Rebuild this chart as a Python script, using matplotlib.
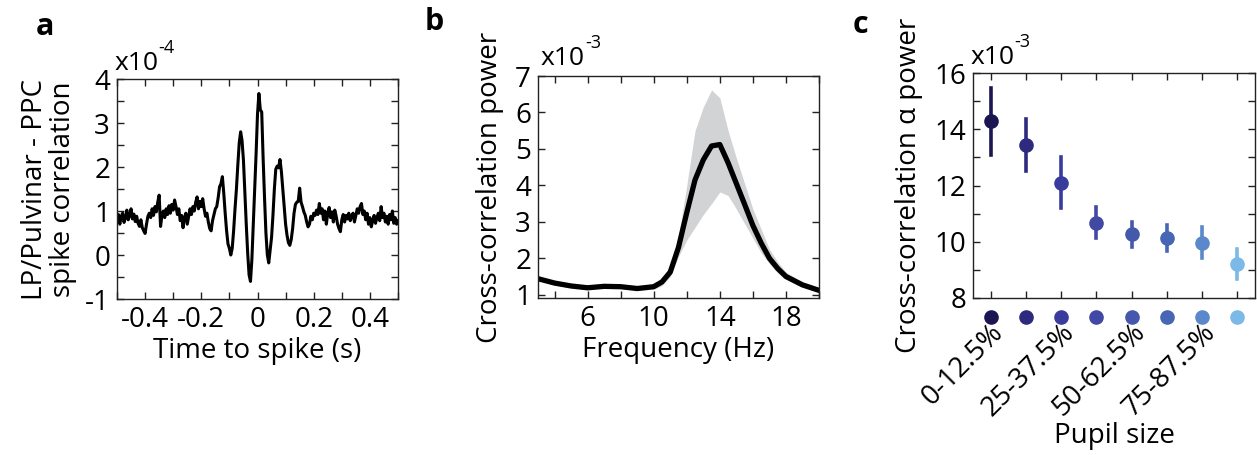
import numpy as np
import matplotlib.pyplot as plt
import matplotlib.transforms as mtransforms
from matplotlib.ticker import MultipleLocator

plt.rcParams['font.family'] = ['Open Sans', 'DejaVu Sans']
plt.rcParams['axes.unicode_minus'] = False
plt.rcParams['xtick.direction'] = 'in'
plt.rcParams['ytick.direction'] = 'in'

# panel a: spike-triggered correlation (x1e-4), sampled every 5 ms from -0.5 to 0.5 s
spike_corr = [
    0.78, 0.92, 0.70, 0.88, 0.95, 0.74, 0.85, 1.02, 0.80, 0.90,
    1.05, 0.82, 0.93, 0.76, 0.88, 0.72, 0.65, 0.80, 0.62, 0.55,
    0.49, 0.70, 0.88, 0.95, 0.85, 1.05, 0.90, 1.10, 0.98, 1.20,
    1.36, 0.65, 0.90, 1.00, 0.85, 1.05, 0.92, 1.12, 0.95, 1.15,
    1.02, 1.25, 1.10, 0.92, 1.05, 0.78, 0.90, 0.62, 0.85, 0.95,
    0.70, 0.88, 1.05, 0.92, 1.10, 1.00, 1.20, 1.32, 1.05, 1.22,
    1.10, 1.28, 1.05, 0.88, 0.95, 0.75, 0.60, 0.55, 0.78, 0.92,
    1.05, 1.10, 1.30, 1.55, 1.62, 1.78, 1.40, 0.95, 0.55, 0.25,
    0.15, 0.00, 0.15, 0.55, 1.05, 1.50, 2.05, 2.55, 2.80, 2.60,
    2.15, 1.40, 0.70, 0.05, -0.45, -0.60, -0.10, 0.70, 1.55, 2.30,
    3.20, 3.67, 3.30, 3.25, 2.20, 1.30, 0.50, 0.00, -0.18, 0.10,
    0.40, 0.90, 1.50, 1.95, 2.02, 1.98, 2.17, 1.90, 1.50, 1.10,
    0.70, 0.45, 0.28, 0.22, 0.35, 0.60, 0.95, 1.15, 1.20, 1.22,
    1.52, 1.20, 1.10, 0.98, 0.90, 0.75, 0.64, 0.70, 0.88, 0.80,
    0.95, 0.90, 1.02, 0.92, 1.17, 0.95, 1.05, 0.80, 1.00, 0.70,
    0.95, 1.08, 0.85, 0.98, 0.75, 1.02, 0.88, 0.70, 0.60, 0.53,
    0.80, 0.92, 0.75, 0.90, 0.82, 0.95, 0.78, 0.88, 0.95, 0.75,
    0.90, 1.05, 0.95, 1.10, 1.17, 0.92, 1.00, 0.80, 0.95, 0.70,
    0.85, 0.64, 0.78, 0.90, 0.72, 0.85, 0.95, 0.78, 1.10, 0.85,
    0.95, 0.75, 0.88, 0.70, 0.92, 0.80, 1.00, 0.72, 0.85, 0.70,
    0.78,
]
lag = np.linspace(-0.5, 0.5, len(spike_corr))

# panel b: cross-correlation spectrum (x1e-3), mean and shaded band
freq = [3, 4, 5, 6, 7, 8, 9, 10, 10.5, 11, 11.5, 12, 12.5, 13, 13.5,
        14, 14.5, 15, 15.5, 16, 16.5, 17, 17.5, 18, 19, 20]
power_mean = [1.44, 1.32, 1.24, 1.19, 1.23, 1.22, 1.17, 1.22, 1.35, 1.62,
              2.30, 3.25, 4.15, 4.70, 5.08, 5.12, 4.62, 4.05, 3.48, 2.90,
              2.42, 2.00, 1.72, 1.50, 1.27, 1.12]
power_upper = [1.50, 1.38, 1.29, 1.24, 1.28, 1.27, 1.22, 1.30, 1.45, 1.80,
               2.60, 4.00, 5.50, 6.15, 6.62, 6.40, 5.50, 4.75, 4.05, 3.35,
               2.80, 2.25, 1.90, 1.62, 1.35, 1.18]
power_lower = [1.38, 1.27, 1.19, 1.14, 1.18, 1.17, 1.12, 1.15, 1.25, 1.50,
               2.05, 2.50, 2.85, 3.20, 3.50, 3.82, 3.72, 3.35, 2.95, 2.55,
               2.15, 1.85, 1.60, 1.42, 1.20, 1.06]

# panel c: alpha power per pupil size bin (x1e-3)
pupil_bins = ['0-12.5%', '12.5-25%', '25-37.5%', '37.5-50%',
              '50-62.5%', '62.5-75%', '75-87.5%', '87.5-100%']
alpha_power = [14.28, 13.44, 12.10, 10.68, 10.26, 10.12, 9.97, 9.22]
alpha_low = [13.09, 12.53, 11.21, 10.15, 9.82, 9.67, 9.44, 8.69]
alpha_high = [15.46, 14.37, 13.03, 11.22, 10.71, 10.58, 10.53, 9.76]
bin_colors = ['#1b1652', '#2e2b7f', '#393c9c', '#4149a4',
              '#4459ab', '#4766b3', '#5a88ca', '#7bb9e6']

W, H = 1257, 455
fig = plt.figure(figsize=(W / 100, H / 100), dpi=100)


def px_axes(left, top, right, bottom):
    return fig.add_axes([left / W, 1 - bottom / H, (right - left) / W, (bottom - top) / H])


def style(ax):
    for s in ax.spines.values():
        s.set_linewidth(1.0)
        s.set_color('#222222')
    ax.tick_params(which='both', top=True, right=True, labelsize=20,
                   color='#222222', width=1.0)
    ax.tick_params(which='major', length=5, pad=5)
    ax.tick_params(which='minor', length=5)


def scale_note(ax, exp, x, y):
    t = ax.text(x, y, 'x10', transform=ax.transAxes, fontsize=19,
                ha='left', va='baseline')
    ax.annotate(exp, xy=(1, 0.75), xycoords=t, fontsize=13,
                ha='left', va='bottom')


# ---- a ----
ax1 = px_axes(117, 79, 398, 299)
ax1.plot(lag, spike_corr, color='black', lw=2.2)
ax1.set_xlim(-0.5, 0.5)
ax1.set_ylim(-1, 4)
ax1.xaxis.set_minor_locator(MultipleLocator(0.1))
ax1.yaxis.set_major_locator(MultipleLocator(1))
ax1.yaxis.set_minor_locator(MultipleLocator(0.5))
ax1.set_xticks([-0.4, -0.2, 0, 0.2, 0.4], ['-0.4', '-0.2', '0', '0.2', '0.4'])
style(ax1)
ax1.set_xlabel('Time to spike (s)', fontsize=20, labelpad=2)
ax1.set_ylabel('LP/Pulvinar - PPC\nspike correlation', fontsize=20,
               labelpad=6, linespacing=1.0)
scale_note(ax1, '-4', -0.01, 1.04)

# ---- b ----
ax2 = px_axes(538, 76, 819, 298)
ax2.fill_between(freq, power_lower, power_upper, color='#d2d3d5', lw=0)
ax2.plot(freq, power_mean, color='black', lw=3.8, solid_capstyle='round')
ax2.set_xlim(3, 20)
ax2.set_ylim(0.91, 7)
ax2.set_xticks([6, 10, 14, 18])
ax2.xaxis.set_minor_locator(MultipleLocator(2))
ax2.set_yticks([1, 2, 3, 4, 5, 6, 7])
style(ax2)
ax2.set_xlabel('Frequency (Hz)', fontsize=20, labelpad=2)
ax2.set_ylabel('Cross-correlation power', fontsize=20, labelpad=8)
scale_note(ax2, '-3', 0.01, 1.05)

# ---- c ----
ax3 = px_axes(973, 73, 1255, 298)
pos = np.arange(1, len(pupil_bins) + 1)
for i in range(len(pos)):
    ax3.plot([pos[i], pos[i]], [alpha_low[i], alpha_high[i]],
             color=bin_colors[i], lw=2.6)
    ax3.plot(pos[i], alpha_power[i], 'o', color=bin_colors[i], ms=9.5)
ax3.set_xlim(0.5, 8.5)
ax3.set_ylim(8, 16)
ax3.yaxis.set_major_locator(MultipleLocator(2))
ax3.yaxis.set_minor_locator(MultipleLocator(1))
shown = [lab if i % 2 == 0 else '' for i, lab in enumerate(pupil_bins)]
ax3.set_xticks(pos, shown)
style(ax3)
ax3.tick_params(axis='x', pad=22)
for lab in ax3.get_xticklabels():
    lab.set_rotation(45)
    lab.set_rotation_mode('anchor')
    lab.set_ha('right')
    lab.set_va('center')
    lab.set_fontsize(20)
    lab.set_transform(lab.get_transform() +
                      mtransforms.ScaledTranslation(9 / 100, 0, fig.dpi_scale_trans))
# colour key dots under the axis
key_trans = mtransforms.blended_transform_factory(ax3.transData, ax3.transAxes)
for i in range(len(pos)):
    ax3.plot(pos[i], -0.083, 'o', color=bin_colors[i], ms=9.5,
             transform=key_trans, clip_on=False)
ax3.set_xlabel('Pupil size', fontsize=20, labelpad=0)
ax3.set_ylabel('Cross-correlation \u03b1 power', fontsize=20, labelpad=8)
scale_note(ax3, '-3', -0.01, 1.04)

# panel letters
fig.text(45 / W, 1 - 27 / H, 'a', fontsize=22, fontweight='bold', ha='center', va='center')
fig.text(434 / W, 1 - 22 / H, 'b', fontsize=22, fontweight='bold', ha='center', va='center')
fig.text(860 / W, 1 - 25 / H, 'c', fontsize=22, fontweight='bold', ha='center', va='center')

fig.savefig('out.png', dpi=100)
